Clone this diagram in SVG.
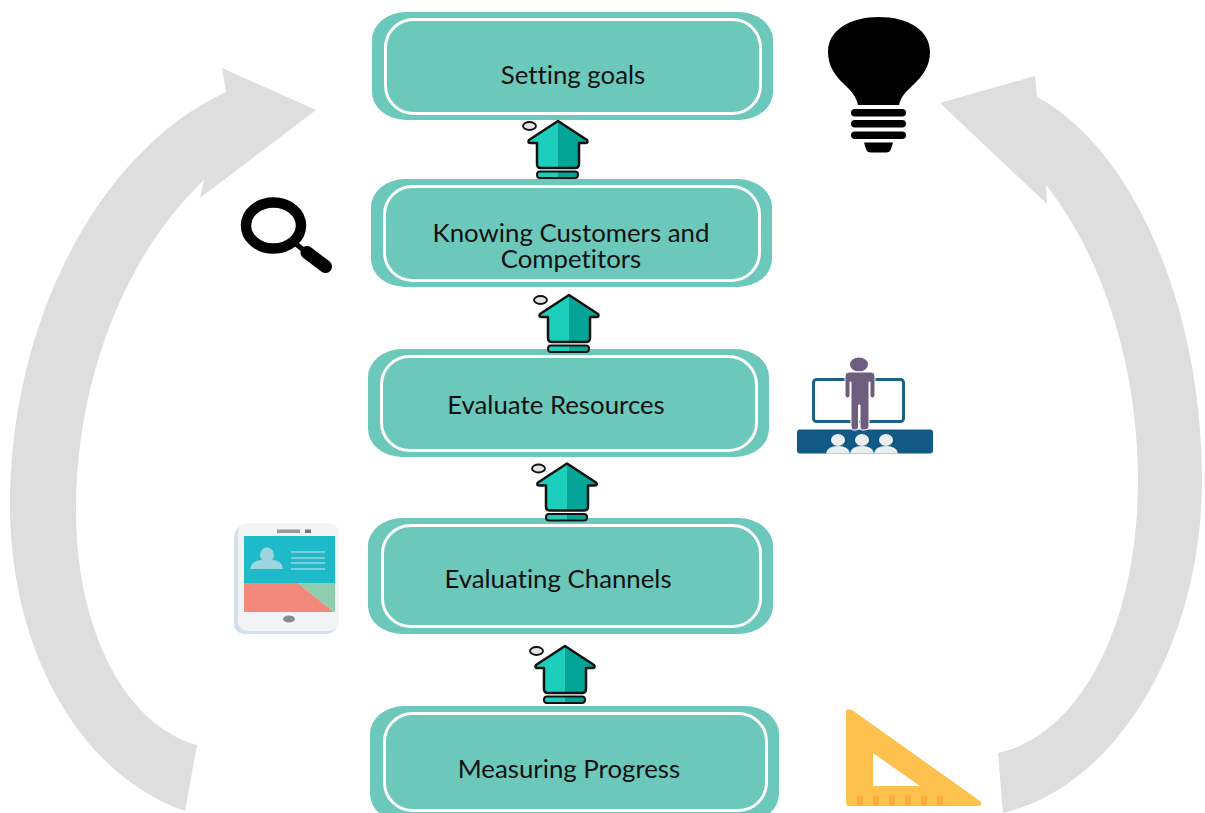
<svg xmlns="http://www.w3.org/2000/svg" width="1205" height="813" viewBox="0 0 1205 813">
<style>
.box{fill:#6bc8bb}
.inner{fill:none;stroke:#fff;stroke-width:3}
.lbl{font-family:Lato,"Liberation Sans",sans-serif;font-size:25.800px;fill:#111;text-anchor:middle;font-variant-ligatures:none}
.loop{fill:#dedede}
</style>
<defs>
<g id="up">
<ellipse cx="-28.500" cy="5" rx="6.500" ry="4" fill="#e4e4e4" stroke="#111" stroke-width="1.800"/>
<path d="M0 0L-29 19Q-31 22 -27 22L-21 22V43Q-21 47 -17 47H0Z" fill="#1ccfbc"/>
<path d="M0 0L29 19Q31 22 27 22L21 22V43Q21 47 17 47H0Z" fill="#04a596"/>
<path d="M0 0L-29 19Q-31 22 -27 22L-21 22V43Q-21 47 -17 47H17Q21 47 21 43V22L27 22Q31 22 29 19Z" fill="none" stroke="#111" stroke-width="2.500" stroke-linejoin="round"/>
<path d="M0 50.500H-18Q-21 50.500 -21 53.500Q-21 57 -18 57H0Z" fill="#1ccfbc"/>
<path d="M0 50.500H17Q20 50.500 20 53.500Q20 57 17 57H0Z" fill="#04a596"/>
<rect x="-21" y="50.500" width="41" height="6.500" rx="3" fill="none" stroke="#111" stroke-width="2"/>
</g>
</defs>
<g id="node-goals">
<rect class="box" x="372" y="12" width="401" height="108" rx="34" ry="28"/>
<rect class="inner" x="385.500" y="19.500" width="375" height="94" rx="28"/>
<text class="lbl" x="573" y="84">Setting goals</text>
</g>
<g id="node-customers">
<rect class="box" x="371" y="179" width="401" height="108" rx="34" ry="28"/>
<rect class="inner" x="384.500" y="186.500" width="375" height="94" rx="28"/>
<text class="lbl" x="571" y="241.500">Knowing Customers and<tspan x="571" dy="26">Competitors</tspan></text>
</g>
<g id="node-resources">
<rect class="box" x="368" y="349" width="401" height="108" rx="34" ry="28"/>
<rect class="inner" x="381.500" y="356.500" width="375" height="94" rx="28"/>
<text class="lbl" x="556" y="414">Evaluate Resources</text>
</g>
<g id="node-channels">
<rect class="box" x="368" y="518" width="405" height="116" rx="34" ry="28"/>
<rect class="inner" x="382.500" y="525.500" width="378" height="101" rx="28"/>
<text class="lbl" x="558" y="588">Evaluating Channels</text>
</g>
<g id="node-progress">
<rect class="box" x="370" y="706" width="409" height="116" rx="34" ry="28"/>
<rect class="inner" x="384.500" y="713.500" width="382" height="97" rx="28"/>
<text class="lbl" x="569" y="778">Measuring Progress</text>
</g>
<g id="connectors">
<path class="loop" d="M316 110L222 68L226 92C100 150 10 320 10 505C10 650 80 775 185 811L197 745C125 725 76 630 76 510C76 380 125 255 204 180L200 198Z"/>
<path class="loop" d="M940 103L1035 76L1037 97C1135 150 1202 310 1202 480C1202 640 1120 785 1003 813L998 753C1080 735 1138 625 1138 480C1138 370 1105 260 1046 185L1047 204Z"/>
<use href="#up" x="558" y="121"/>
<use href="#up" x="569" y="295"/>
<use href="#up" x="567" y="463.500"/>
<use href="#up" x="565" y="646"/>
</g>
<g id="icon-bulb">
<path d="M858 105C856 96 851 91 846 86C835 76 828 66 828 52C828 30 850 17 879 17C908 17 930 30 930 52C930 66 923 76 912 86C907 91 901 96 899 105Z" fill="#000"/>
<rect x="851" y="109" width="55" height="7.500" rx="3.700" fill="#000"/>
<rect x="851" y="120" width="55" height="7.500" rx="3.700" fill="#000"/>
<rect x="851" y="131.500" width="55" height="7.500" rx="3.700" fill="#000"/>
<path d="M864 142.500H893L891 149Q890 152.500 886 152.500H871Q867 152.500 866 149Z" fill="#000"/>
</g>
<g id="icon-magnifier">
<ellipse cx="273.500" cy="225.500" rx="27.500" ry="23" fill="none" stroke="#000" stroke-width="10.500"/>
<path d="M296 244L306 252" fill="none" stroke="#000" stroke-width="5"/>
<path d="M307 252.500L325.500 266.500" fill="none" stroke="#000" stroke-width="13" stroke-linecap="round"/>
</g>
<g id="icon-presenter">
<rect x="813.500" y="379.500" width="90" height="42" rx="3" fill="none" stroke="#1f6288" stroke-width="3"/>
<rect x="797" y="429.500" width="136" height="24" rx="3" fill="#125a85"/>
<ellipse cx="859" cy="364.500" rx="9" ry="7" fill="#6e5d7e"/>
<path d="M849 372H871Q875 372 875 376V395Q875 398 872.500 398Q870 398 870 395V382H869V426Q869 430 865 430H862Q860 430 860 427V405H858.500V427Q858.500 430 856 430H853Q851 430 851 426V382H850V395Q850 398 847.500 398Q845 398 845 395V376Q845 372 849 372Z" fill="#6e5d7e" stroke="#fff" stroke-width="1"/>
<g fill="#ebeef0">
<ellipse cx="838" cy="440" rx="7" ry="6"/><path d="M826 453.500Q827 446 838 446Q849 446 850 453.500Z"/>
<ellipse cx="862" cy="440" rx="7" ry="6"/><path d="M850 453.500Q851 446 862 446Q873 446 874 453.500Z"/>
<ellipse cx="886" cy="440" rx="7" ry="6"/><path d="M874 453.500Q875 446 886 446Q897 446 898 453.500Z"/>
</g>
</g>
<g id="icon-tablet">
<rect x="234" y="526" width="103" height="108" rx="10" fill="#d5dfec"/>
<rect x="238" y="523" width="101" height="108" rx="10" fill="#f2f3f5"/>
<rect x="244" y="536" width="91" height="47" fill="#1fbaca"/>
<path d="M244 583H298L334 612H244Z" fill="#f2897b"/>
<path d="M298 583H335V612H334Z" fill="#8fcfb0"/>
<rect x="277" y="529.500" width="23" height="3.500" fill="#999"/>
<rect x="305" y="529.500" width="6" height="3.500" fill="#777"/>
<ellipse cx="289" cy="619" rx="6" ry="3.500" fill="#8b8b8b"/>
<ellipse cx="267" cy="555" rx="7" ry="7.500" fill="#9cd5df"/>
<path d="M250 569Q252 560 262 560H272Q282 560 283 569Z" fill="#9cd5df"/>
<path d="M291 552H325M291 558H325M291 563H325M291 569H325" stroke="#9cd5df" stroke-width="1.500" fill="none"/>
</g>
<g id="icon-ruler">
<path d="M846 712Q846 708 852 710L980 801Q983 805 979 806H849Q846 806 846 802ZM873 753V786H920Z" fill="#ffc14d" fill-rule="evenodd"/>
<g fill="#ffab3d">
<rect x="857" y="796" width="6" height="10" rx="2"/><rect x="873" y="796" width="6" height="10" rx="2"/><rect x="889" y="796" width="6" height="10" rx="2"/><rect x="905" y="796" width="6" height="10" rx="2"/><rect x="921" y="796" width="6" height="10" rx="2"/><rect x="937" y="796" width="6" height="10" rx="2"/>
</g>
</g>
</svg>
